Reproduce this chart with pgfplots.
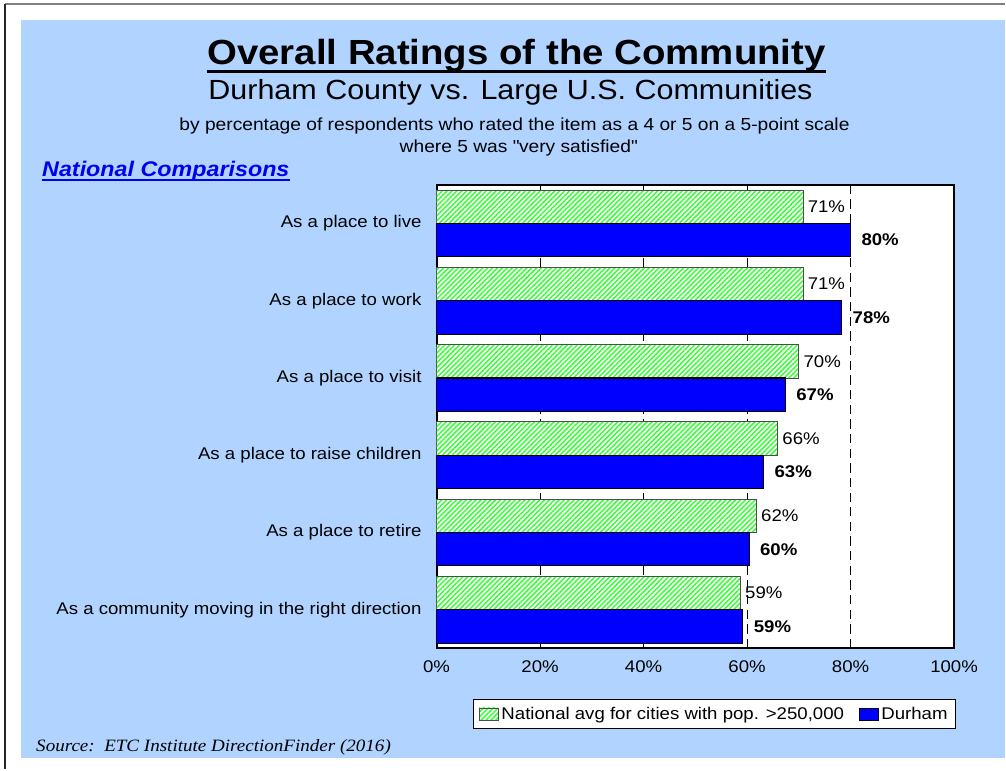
\documentclass[border=0pt]{standalone}
\usepackage{fontspec}
\setmainfont{Liberation Sans}[FakeStretch=1.1]
\newfontfamily\srcfont{Liberation Serif}[FakeStretch=1.1]
\usepackage{pgfplots}
\pgfplotsset{compat=1.18}
\usetikzlibrary{patterns.meta}
\definecolor{bgblue}{RGB}{176,212,255}
\definecolor{hatchgreen}{RGB}{51,255,51}
\definecolor{durblue}{RGB}{0,0,255}
\definecolor{linkblue}{RGB}{0,0,238}
\newcommand{\lab}{\fontsize{12.7}{14}\selectfont}
\begin{document}
\begin{tikzpicture}[x=0.75pt,y=-0.75pt]
\path[fill=white] (0,0) rectangle (1006,770);
\fill[bgblue] (21,20) rectangle (1006,759);
\draw[black!50, line width=1.5pt] (5,4.5) -- (1006,4.5);
\draw[black!85, line width=1.5pt] (5.5,4) -- (5.5,770);

\node[anchor=base, inner sep=0pt, font=\fontsize{26.2}{30}\selectfont\bfseries] (title) at (517,65) {Overall Ratings of the Community};
\draw[line width=2.2pt] ([yshift=-4.9pt]title.base west) -- ([yshift=-4.9pt]title.base east);
\node[anchor=base, inner sep=0pt, font=\fontsize{20.8}{24}\selectfont] at (511,100) {Durham County vs. Large U.S. Communities};
\node[anchor=base, inner sep=0pt, font=\fontsize{13.1}{15}\selectfont] at (515,131) {by percentage of respondents who rated the item as a 4 or 5 on a 5-point scale};
\node[anchor=base, inner sep=0pt, font=\fontsize{13.1}{15}\selectfont] at (519,153) {where 5 was \textquotedbl very satisfied\textquotedbl};
\node[anchor=base west, inner sep=0pt, text=linkblue, font=\fontsize{15.9}{18}\selectfont\bfseries\itshape] (nc) at (42,177) {National Comparisons};
\draw[linkblue, line width=1.3pt] ([yshift=-2.6pt]nc.base west) -- ([yshift=-2.6pt]nc.base east);
\node[anchor=base west, inner sep=0pt, font=\srcfont\itshape\fontsize{13}{15}\selectfont] at (36,752) {Source:\ \ ETC Institute DirectionFinder (2016)};

\begin{axis}[
  at={(327.75pt,-486.75pt)}, anchor=south west,
  scale only axis, width=388.5pt, height=348pt,
  xmin=0, xmax=100, ymin=-0.5, ymax=5.5,
  xbar, bar width=25.1pt,
  axis background/.style={fill=white},
  axis line style={line width=1.5pt},
  /pgf/number format/assume math mode=true,
  xtick={0,20,40,60,80,100},
  xticklabels={0\%,20\%,40\%,60\%,80\%,100\%},
  ytick={0,1,2,3,4,5},
  yticklabels={As a community moving in the right direction, As a place to retire, As a place to raise children, As a place to visit, As a place to work, As a place to live},
  major tick length=0pt,
  tick label style={font=\lab},
  xticklabel style={yshift=-6pt},
  yticklabel style={xshift=-7.8pt},
  xmajorgrids,
  major grid style={black, line width=0.6pt, dash pattern=on 7pt off 4pt},
  point meta=x,
  nodes near coords={\pgfmathprintnumber[fixed,precision=0]{\pgfplotspointmeta}\%},
  nodes near coords style={font=\lab, anchor=west},
  legend columns=2,
  legend style={at={(1,0)}, anchor=north east, xshift=1.5pt, yshift=-38pt, draw=black, line width=0.8pt, font=\lab, fill=white, inner xsep=4pt, inner ysep=3.5pt, /tikz/every even column/.append style={column sep=9pt}},
  legend image code/.code={\draw[#1, line width=0.5pt] (0pt,-4.5pt) rectangle (14.5pt,4.5pt);},
]
\addplot[draw=black!70, line width=0.6pt, fill=white, postaction={pattern={Lines[angle=45,distance=2.6pt,line width=1.1pt]}, pattern color=hatchgreen}, bar shift=12.55pt]
  coordinates {(58.7,0) (61.8,1) (65.9,2) (70,3) (70.8,4) (70.8,5)};
\addplot[draw=black, line width=0.8pt, fill=durblue, bar shift=-12.55pt, nodes near coords style={font=\lab\bfseries, xshift=4.5pt}]
  coordinates {(59.2,0) (60.4,1) (63.2,2) (67.4,3) (78.3,4) (80,5)};
\legend{{National avg for cities with pop. >250,000}, Durham}
\end{axis}
\end{tikzpicture}
\end{document}
